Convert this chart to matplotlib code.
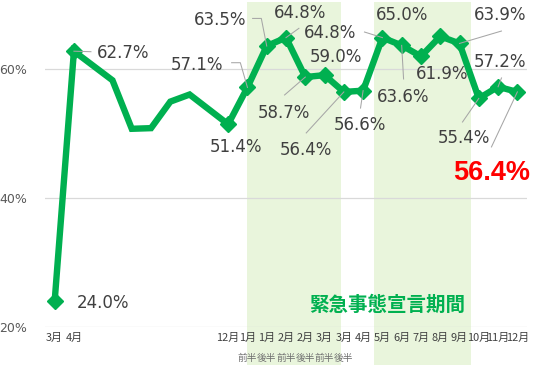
import numpy as np
import matplotlib
matplotlib.use("Agg")
import matplotlib.pyplot as plt
from matplotlib.lines import Line2D
from matplotlib.patches import Rectangle
import matplotlib.transforms as mtransforms

# ---- data ----
tick_labels = ["3月", "4月", "", "", "", "", "", "", "", "12月",
               "1月", "1月", "2月", "2月", "3月", "3月", "4月", "5月", "6月",
               "7月", "8月", "9月", "10月", "11月", "12月"]
sub_labels = ["", "", "", "", "", "", "", "", "", "",
              "前半", "後半", "前半", "後半", "前半", "後半", "", "", "",
              "", "", "", "", "", ""]
values = [24.0, 62.7, np.nan, 58.2, 50.7, 50.8, 54.9, 56.0, np.nan, 51.4,
          57.1, 63.5, 64.8, 58.7, 59.0, 56.4, 56.6, 64.8, 63.6, 61.9,
          65.0, 63.9, 55.4, 57.2, 56.4]
labeled = [0, 1, 9, 10, 11, 12, 13, 14, 15, 16, 17, 18, 19, 20, 21, 22, 23, 24]
band_ranges = [(10.0, 14.85), (16.55, 21.6)]
band_text = "緊急事態宣言期間"

# label offsets (pixels, image coords: +y down) and leader polylines
label_off = {
    0: (22.4, 1.9, "left"), 1: (23, 1.6, "left"), 9: (8, 22.4, "center"),
    10: (-50.3, -22.4, "center"), 11: (-46.6, -26.2, "center"),
    12: (13.6, -24.9, "center"), 13: (-21.2, 35.9, "center"),
    14: (11.5, -18.4, "center"), 15: (-38.3, 58, "center"),
    16: (-3.6, 34.4, "center"), 17: (-51.9, -4.3, "center"),
    18: (1.4, 51.3, "center"), 19: (21.1, 17.6, "center"),
    20: (-37.7, -21.3, "center"), 21: (41, -28.4, "center"),
    22: (-15.3, 39.6, "center"), 23: (2.4, -25.1, "center"),
}
leaders = {
    1: [(17, 0.5), (0, 0)],
    10: [(-15.8, -24.7), (-7.1, -24.7), (0, 0)],
    11: [(-14.1, -27.6), (-5.4, -27.6), (0, 0)],
    12: [(12.9, -9.3), (0, 0)],
    13: [(-20.7, 17.9), (0, 0)],
    15: [(-37.6, 41), (0, 0)],
    16: [(-2.6, 17.4), (0, 0)],
    17: [(-17.9, -5.6), (0, 0)],
    18: [(1.9, 33.6), (0, 0)],
    21: [(41.9, -12.4), (0, 0)],
    22: [(-16.3, 23.6), (0, 0)],
    23: [(3.4, -8.8), (0, 0)],
    24: [(-25.9, 55), (0, 0)],
}
red_idx = 24
red_off = (-25.9, 81)

GREEN = "#00B050"
BAND = "#E9F5DC"
TXT = "#404040"

W, H = 540, 365
fig = plt.figure(figsize=(W / 100, H / 100), dpi=100)
ax = fig.add_axes([45 / W, (H - 327.3) / H, (527 - 45) / W, (327.3 - 4) / H])
n = len(values)
x = np.arange(n)
v = np.array(values, dtype=float)
ax.set_xlim(-0.5, n - 0.5)
ax.set_ylim(20, 70)

# bands
btrans = mtransforms.blended_transform_factory(ax.transData, ax.transAxes)
for a, b in band_ranges:
    ax.add_patch(Rectangle((a, -0.12), b - a, 1.125, transform=btrans,
                           facecolor=BAND, edgecolor="none", zorder=0, clip_on=False))

for s in ax.spines.values():
    s.set_visible(False)
ax.set_yticks([20, 40, 60])
ax.set_yticklabels(["20%", "40%", "60%"])
ax.yaxis.grid(True, color="#D9D9D9", lw=0.9)
ax.set_axisbelow(True)
ax.tick_params(axis="y", length=0, pad=13, labelsize=9, labelcolor="#595959")
ax.set_xticks(x)
ax.set_xticklabels(tick_labels, family=["Noto Sans CJK JP", "DejaVu Sans"], fontsize=7.9, color=TXT)
ax.tick_params(axis="x", length=0, pad=4)
ax.set_facecolor("none")

for i, s in enumerate(sub_labels):
    if s:
        ax.text(i, -0.095, s, transform=btrans, ha="center", va="center",
                family=["Noto Sans CJK JP"], fontsize=7, color="#6F6F6F")

m = ~np.isnan(v)
ax.plot(x[m], v[m], color=GREEN, lw=4.6, solid_joinstyle="miter", zorder=3)
ax.plot(x[labeled], v[labeled], ls="none", marker="D", ms=8.5, color=GREEN, zorder=4)

ax.text(17.24, 23.45, band_text, ha="center", va="center", color=GREEN,
        family=["Noto Sans CJK JP"], fontsize=14, fontweight="bold")

# leader lines (display coords)
fig.canvas.draw()
for i, pts in leaders.items():
    px, py = ax.transData.transform((x[i], v[i]))
    xs = [px + dx for dx, dy in pts]
    ys = [py - dy for dx, dy in pts]
    fig.add_artist(Line2D(xs, ys, transform=mtransforms.IdentityTransform(),
                          color="#A6A6A6", lw=0.75, zorder=2))

for i, (dx, dy, ha) in label_off.items():
    ax.annotate(f"{values[i]:.1f}%", (x[i], v[i]), xytext=(dx, -dy),
                textcoords="offset pixels", ha=ha, va="center",
                fontsize=12, color=TXT, zorder=6, annotation_clip=False)

ax.annotate(f"{values[red_idx]:.1f}%", (x[red_idx], v[red_idx]), xytext=(red_off[0], -red_off[1]),
            textcoords="offset pixels", ha="center", va="center",
            fontsize=19.5, color="#FF0000", fontweight="bold",
            family=["Liberation Sans", "DejaVu Sans"], annotation_clip=False)

fig.savefig("out.png", dpi=100)
